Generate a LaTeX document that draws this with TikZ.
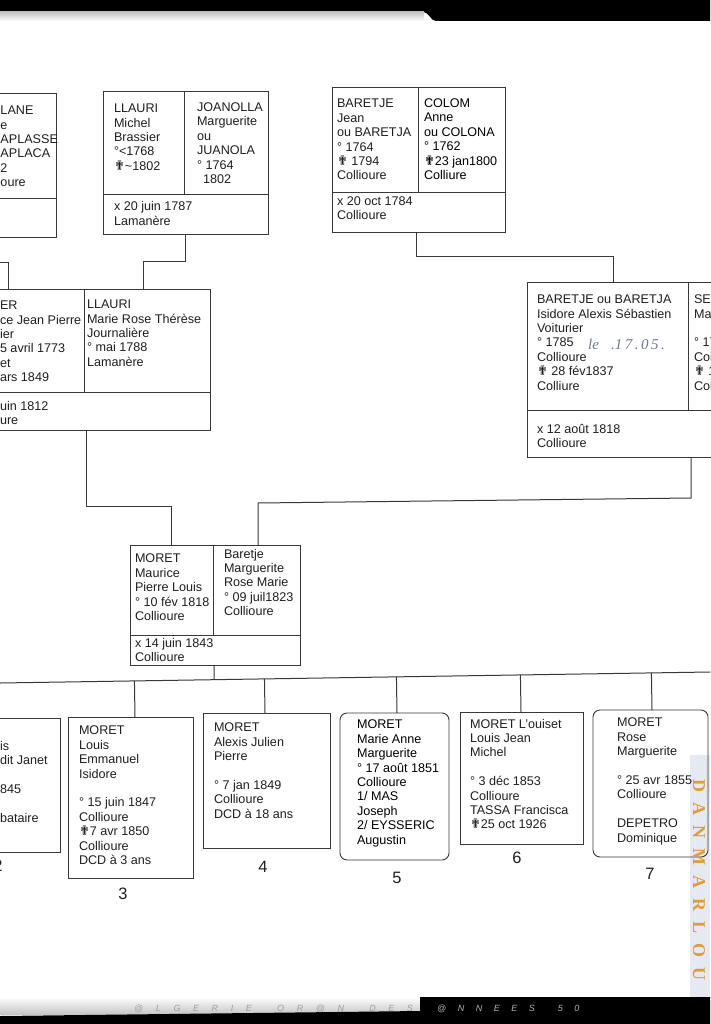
\documentclass[tikz,border=0pt]{standalone}
\usepackage{fontspec}
\setmainfont{Liberation Sans}
\newfontfamily\dejavu{DejaVu Sans}
\newfontfamily\lserif{Liberation Serif}
\usetikzlibrary{calc}
\definecolor{linec}{gray}{0.22}
\definecolor{txtc}{gray}{0.12}
\definecolor{gold}{RGB}{224,156,58}
\definecolor{pencil}{RGB}{110,120,145}
\definecolor{stripc}{RGB}{229,234,242}
\newcommand\fs{\fontsize{12.6}{14.4}\selectfont}
\newcommand\cx{{\dejavu\fontsize{13}{10}\selectfont ✟}}
\newcommand\numf{\fontsize{16.5}{16.5}\selectfont}
\newcommand\hwf{\lserif\itshape\fontsize{15}{15}\selectfont}
\newcommand\ftfa{\fontsize{9}{9}\selectfont\itshape\spaceskip=12.6pt\relax}
\newcommand\ftfb{\fontsize{9}{9}\selectfont\itshape\spaceskip=11.5pt\relax}
\newcommand\dmf{\lserif\bfseries\fontsize{18}{18}\selectfont\spaceskip=10pt\relax}
\tikzset{
  box/.style={draw=linec, line width=0.9pt, inner sep=0pt, outer sep=0pt, anchor=north west},
  rbox/.style={box, rounded corners=7pt},
  divl/.style={draw=linec, line width=0.9pt},
  conn/.style={draw=linec, line width=1pt},
  txt/.style={anchor=north west, inner sep=0pt, outer sep=0pt, align=left, font=\fs, text=txtc, execute at begin node={\rule{0pt}{9pt}}},
  num/.style={font=\numf, text=txtc, inner sep=0pt}
}
\begin{document}
\begin{tikzpicture}[x=1pt,y=-1pt]
\useasboundingbox (0,0) rectangle (710,1024);
\fill[white] (0,0) rectangle (710,1024);
% right tinted strip
\fill[stripc] (690,755) rectangle (710,997);
% top edge of the scan
\fill[black] (0,0) rectangle (710,12);
\fill[black] (420,0) -- (710,0) -- (710,21) -- (436,21) .. controls (430,21) and (430,12) .. (422,12) -- cycle;
\shade[top color=gray!45, bottom color=white] (0,12) rectangle (424,21);
% bottom edge of the scan
\shade[top color=white, bottom color=gray!45] (0,997) rectangle (420,1014);
\fill[black] (0,1016) -- (420,1011) -- (420,997) -- (710,997) -- (710,1024) -- (0,1024) -- cycle;
\node[font=\ftfa, text=gray!75, anchor=base west, inner sep=0pt] (fta) at (134,1011) {@ L G E R I E\ \ O R @ N\ \ D E S};
\node[font=\ftfb, text=gray!60, anchor=base west, inner sep=0pt] (ftb) at (437,1011) {@ N N E E S\ \ 5 0};

% ---------- top row ----------
\node[box, minimum width=66pt, minimum height=144pt] (tl) at (-10,93) {};
\draw[divl] (tl.west |- 0,198) -- (tl.east |- 0,198);
\node[txt] (tlt) at (0.5,106) {LANE\\e\\APLASSE\\APLACA\\2\\oure};

\node[box, minimum width=165pt, minimum height=143pt] (llj) at (103,91) {};
\draw[divl] (llj.north -| 184,0) -- (184,194);
\draw[divl] (llj.west |- 0,194) -- (llj.east |- 0,194);
\node[txt] (llja) at (114,104) {LLAURI\\Michel\\Brassier\\°<1768\\\cx\textasciitilde1802};
\node[txt] (lljb) at (197,102.7) {JOANOLLA\\Marguerite\\ou\\JUANOLA\\° 1764\\\hspace*{6pt}1802};
\node[txt] (lljc) at (114,201.5) {x 20 juin 1787\\Lamanère};

\node[box, minimum width=173pt, minimum height=145pt] (bc) at (332,87) {};
\draw[divl] (bc.north -| 418,0) -- (418,192);
\draw[divl] (bc.west |- 0,192) -- (bc.east |- 0,192);
\node[txt] (bca) at (337,99.3) {BARETJE\\Jean\\ou BARETJA\\° 1764\\\cx\ 1794\\Collioure};
\node[txt, text=black] (bcb) at (424,98.7) {COLOM\\Anne\\ou COLONA\\° 1762\\\cx23 jan1800\\Colliure};
\node[txt] (bcc) at (337,196.5) {x 20 oct 1784\\Collioure};

% ---------- second row ----------
\node[box, minimum width=220pt, minimum height=141pt] (ml) at (-10,289) {};
\draw[divl] (ml.north -| 84,0) -- (84,392);
\draw[divl] (ml.west |- 0,392) -- (ml.east |- 0,392);
\node[txt] (mla) at (0,301) {ER\\ce Jean Pierre\\ier\\5 avril 1773\\et\\ars 1849};
\node[txt] (mlb) at (87,300) {LLAURI\\Marie Rose Thérèse\\Journalière\\° mai 1788\\Lamanère};
\node[txt] (mlc) at (0,401) {uin 1812\\ure};

\node[box, minimum width=200pt, minimum height=175pt] (isi) at (527,282) {};
\draw[divl] (isi.north -| 688,0) -- (688,410);
\draw[divl] (isi.west |- 0,410) -- (isi.east |- 0,410);
\node[txt] (isa) at (537,295) {BARETJE ou BARETJA\\Isidore Alexis Sébastien\\Voiturier\\° 1785\\Collioure\\\cx\ 28 fév1837\\Colliure};
\node[txt] (isb) at (694,295) {SE\\Ma\\\mbox{}\\° 17\\Col\\\cx\ 1\\Col};
\node[txt] (isc) at (537,424) {x 12 août 1818\\Collioure};
\node[font=\hwf, text=pencil, anchor=base west, inner sep=0pt] (hw) at (588,349) {le\hspace{12pt}.1\,7\,.\,0\,5\,.};

% ---------- couple ----------
\node[box, minimum width=170pt, minimum height=120pt] (mor) at (130,545) {};
\draw[divl] (mor.north -| 213,0) -- (213,635);
\draw[divl] (mor.west |- 0,635) -- (mor.east |- 0,635);
\node[txt] (mora) at (135,554) {MORET\\Maurice\\Pierre Louis\\° 10 fév 1818\\Collioure};
\node[txt] (morb) at (224,549) {Baretje\\Marguerite\\Rose Marie\\° 09 juil1823\\Collioure};
\node[txt] (morc) at (135,638) {x 14 juin 1843\\Collioure};

% ---------- children ----------
\node[box, minimum width=70pt, minimum height=134pt] (c2) at (-10,718) {};
\node[txt] (c2t) at (0,741) {is\\dit Janet\\\mbox{}\\845\\\mbox{}\\bataire};
\node[num] (n2) at (-2,866) {2};

\node[box, minimum width=125pt, minimum height=161pt] (c3) at (68,717) {};
\node[txt] (c3t) at (79,726) {MORET\\Louis\\Emmanuel\\Isidore\\\mbox{}\\° 15 juin 1847\\Collioure\\\cx7 avr 1850\\Collioure\\DCD à 3 ans};
\node[num] (n3) at (123,894) {3};

\node[box, minimum width=127pt, minimum height=135pt] (c4) at (203,713) {};
\node[txt] (c4t) at (214,723) {MORET\\Alexis Julien\\Pierre\\\mbox{}\\° 7 jan 1849\\Collioure\\DCD à 18 ans};
\node[num] (n4) at (263,867) {4};

\node[rbox, minimum width=109pt, minimum height=147pt] (c5) at (340,713) {};
\node[txt, text=black] (c5t) at (357,720) {MORET\\Marie Anne\\Marguerite\\° 17 août 1851\\Collioure\\1/ MAS\\Joseph\\2/ EYSSERIC\\Augustin};
\node[num] (n5) at (397,878) {5};

\node[box, minimum width=123pt, minimum height=132pt] (c6) at (460,712) {};
\node[txt] (c6t) at (470,719) {MORET L'ouiset\\Louis Jean\\Michel\\\mbox{}\\° 3 déc 1853\\Collioure\\TASSA Francisca\\\cx25 oct 1926};
\node[num] (n6) at (517,858) {6};

\node[rbox, minimum width=115pt, minimum height=147pt] (c7) at (593,710) {};
\node[txt] (c7t) at (617,718) {MORET\\Rose\\Marguerite\\\mbox{}\\° 25 avr 1855\\Collioure\\\mbox{}\\DEPETRO\\Dominique};
\node[num] (n7) at (650,874) {7};

% ---------- connectors ----------
\coordinate (lfree) at (0,262);
\draw[conn] (lfree) -| (ml.north -| 8,0);
\draw[conn] (llj.south -| 185,0) -- ++(0,27) -| (ml.north -| 143,0);
\draw[conn] (bc.south -| 416,0) -- ++(0,24) -| (isi.north -| 613,0);
\draw[conn] (ml.south -| 86,0) -- ++(0,76) -| (mor.north -| 171,0);
\draw[conn] (isi.south -| 691,0) -- ++(0,41) -- ($(mor.north -| 258,0)+(0,-42)$) -- (mor.north -| 258,0);
\coordinate (busL) at (0,683);
\coordinate (busR) at (710,672);
\draw[conn] (busL) -- (busR);
\draw[conn] (mor.south -| 214,0) -- ($(busL)!(mor.south -| 214,0)!(busR)$);
\draw[conn] (c3.north -| 135,0) -- ($(busL)!(c3.north -| 135,0)!(busR)$);
\draw[conn] (c4.north -| 265,0) -- ($(busL)!(c4.north -| 265,0)!(busR)$);
\draw[conn] (c5.north -| 397,0) -- ($(busL)!(c5.north -| 397,0)!(busR)$);
\draw[conn] (c6.north -| 521,0) -- ($(busL)!(c6.north -| 521,0)!(busR)$);
\draw[conn] (c7.north -| 652,0) -- ($(busL)!(c7.north -| 652,0)!(busR)$);

% ---------- side watermark ----------
\node[rotate=-90, font=\dmf, text=gold, inner sep=0pt] (dm) at (699,880) {D A N M A R L O U};
\end{tikzpicture}
\end{document}
